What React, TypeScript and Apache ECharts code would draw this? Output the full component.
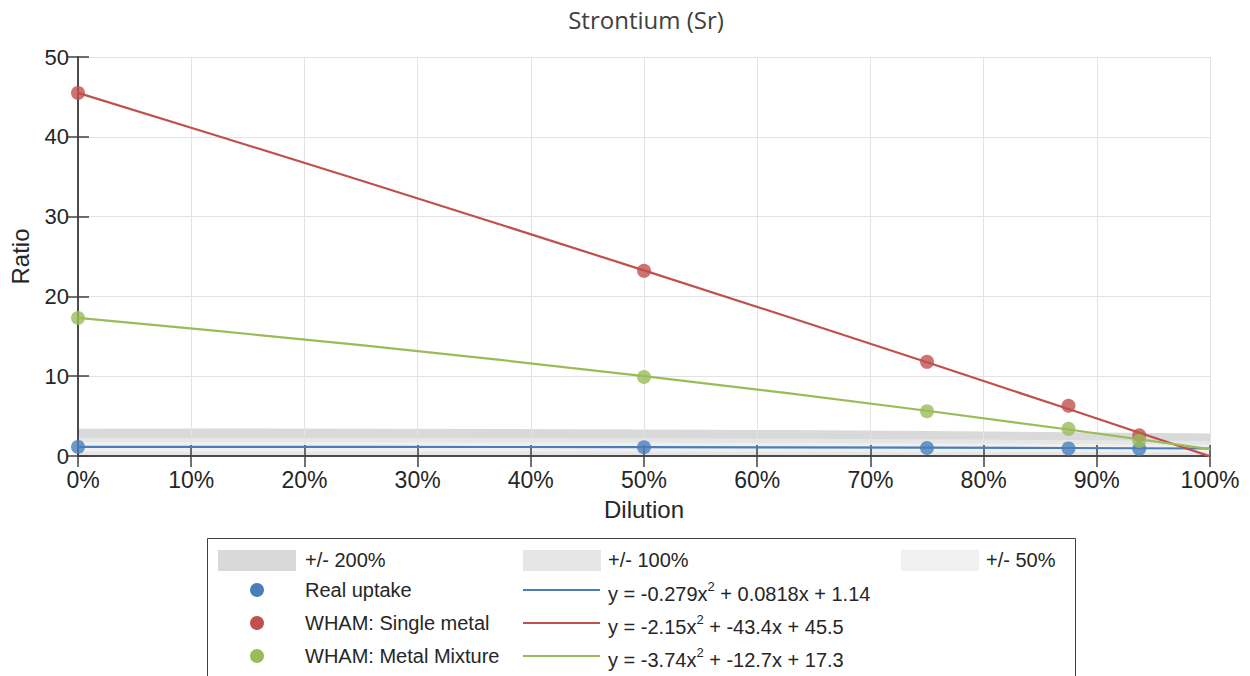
import React, { useEffect, useRef } from "react";
import * as echarts from "echarts";

// ---- data ----
const dilution = [0, 0.5, 0.75, 0.875, 0.9375];
const realUptake = [1.14, 1.1, 1.0, 0.95, 0.9];
const singleMetal = [45.5, 23.2, 11.8, 6.3, 2.6];
const metalMixture = [17.3, 9.9, 5.6, 3.4, 1.9];

const fitX = [0, 0.125, 0.25, 0.375, 0.5, 0.625, 0.75, 0.875, 1];
const fitReal = [1.14, 1.15, 1.14, 1.13, 1.11, 1.08, 1.04, 1.0, 0.94];
const fitSingle = [45.5, 40.04, 34.52, 28.92, 23.26, 17.54, 11.74, 5.88, -0.05];
const fitMixture = [17.3, 15.65, 13.89, 12.01, 10.02, 7.9, 5.67, 3.32, 0.86];

const band200Upper = [3.42, 3.44, 3.43, 3.39, 3.33, 3.25, 3.13, 2.99, 2.83];
const band100Upper = [2.28, 2.29, 2.29, 2.26, 2.22, 2.16, 2.09, 2.0, 1.89];
const band50Upper = [1.71, 1.72, 1.71, 1.7, 1.67, 1.62, 1.57, 1.5, 1.41];
const band50Lower = [0.57, 0.57, 0.57, 0.57, 0.56, 0.54, 0.52, 0.5, 0.47];

const seriesNames = ["Real uptake", "WHAM: Single metal", "WHAM: Metal Mixture"];
const bandNames = ["+/- 200%", "+/- 100%", "+/- 50%"];
const equations = [
  ["y = -0.279x", " + 0.0818x + 1.14"],
  ["y = -2.15x", " + -43.4x + 45.5"],
  ["y = -3.74x", " + -12.7x + 17.3"],
];

const COLORS = ["#4a7ebb", "#c0504d", "#9bbb59"];
const BAND_COLORS = ["#d9d9d9", "#e6e6e6", "#f0f0f0"];
const AXIS_COLOR = "#404040";
const TEXT_COLOR = "#262626";
const FONT = "'Liberation Sans', Arial, Helvetica, sans-serif";

const pairs = (xs: number[], ys: number[]) => xs.map((x, i) => [x, ys[i]]);

export default function App() {
  const ref = useRef<HTMLDivElement>(null);

  useEffect(() => {
    if (!ref.current) return;
    const chart = echarts.init(ref.current, undefined, { renderer: "svg" });

    const bandSeries = (data: number[][], color: string, z: number) => ({
      type: "line",
      data,
      showSymbol: false,
      symbol: "none",
      lineStyle: { width: 0, opacity: 0 },
      areaStyle: { color, opacity: 1, origin: "start" },
      z,
      silent: true,
    });

    const lineSeries = (ys: number[], color: string) => ({
      type: "line",
      data: pairs(fitX, ys),
      showSymbol: false,
      symbol: "none",
      lineStyle: { width: 2.2, color },
      z: 3,
      clip: true,
    });

    const scatterSeries = (ys: number[], color: string) => ({
      type: "scatter",
      data: pairs(dilution, ys),
      symbol: "circle",
      symbolSize: 14,
      itemStyle: { color },
      z: 4,
      clip: false,
    });

    // legend graphics
    const legendLeft = 207;
    const legendTop = 538;
    const col1Patch = 218;
    const col1Text = 305;
    const col2Patch = 523;
    const col2Text = 608;
    const col3Patch = 901;
    const col3Text = 986;
    const rowY = [560, 591, 624, 657];
    const legendFont = { fontSize: 20, fontFamily: FONT, fill: TEXT_COLOR };

    const graphics: any[] = [
      {
        type: "rect",
        shape: { x: legendLeft + 0.5, y: legendTop + 0.5, width: 868, height: 200 },
        style: { fill: "#fff", stroke: AXIS_COLOR, lineWidth: 1 },
        z: 10,
      },
    ];
    const patchXs = [col1Patch, col2Patch, col3Patch];
    const patchTextXs = [col1Text, col2Text, col3Text];
    bandNames.forEach((name, i) => {
      graphics.push({
        type: "rect",
        shape: { x: patchXs[i], y: rowY[0] - 10, width: 78, height: 21 },
        style: { fill: BAND_COLORS[i] },
        z: 11,
      });
      graphics.push({
        type: "text",
        x: patchTextXs[i],
        y: rowY[0],
        style: { text: name, ...legendFont, verticalAlign: "middle" },
        z: 11,
      });
    });
    seriesNames.forEach((name, i) => {
      const y = rowY[i + 1];
      graphics.push({
        type: "circle",
        shape: { cx: 257, cy: y - 1, r: 7 },
        style: { fill: COLORS[i] },
        z: 11,
      });
      graphics.push({
        type: "text",
        x: col1Text,
        y: y - 1,
        style: { text: name, ...legendFont, verticalAlign: "middle" },
        z: 11,
      });
      graphics.push({
        type: "line",
        shape: { x1: col2Patch, y1: y - 1, x2: col2Patch + 77, y2: y - 1 },
        style: { stroke: COLORS[i], lineWidth: 2 },
        z: 11,
      });
      graphics.push({
        type: "text",
        x: col2Text,
        y: y + 3,
        style: {
          text: equations[i][0] + "{sup|2}" + equations[i][1],
          ...legendFont,
          verticalAlign: "middle",
          rich: {
            sup: { fontSize: 13, fontFamily: FONT, fill: TEXT_COLOR, padding: [0, 0, 15, 0] },
          },
        },
        z: 11,
      });
    });

    const option: any = {
      animation: false,
      backgroundColor: "#ffffff",
      title: {
        text: "Strontium (Sr)",
        left: 641,
        textAlign: "center",
        top: 2,
        textStyle: {
          fontFamily: "'Open Sans', sans-serif",
          fontWeight: "normal",
          fontSize: 24,
          color: "#404040",
        },
      },
      grid: { left: 73, right: 40, top: 57, bottom: 220, containLabel: false },
      xAxis: [
        {
          type: "value",
          min: 0,
          max: 1,
          interval: 0.1,
          z: 1,
          name: "Dilution",
          nameLocation: "middle",
          nameGap: 41,
          nameTextStyle: { fontFamily: FONT, fontSize: 24, color: TEXT_COLOR },
          axisLine: { show: true, lineStyle: { color: AXIS_COLOR, width: 1.5 } },
          axisTick: { show: true, inside: true, length: 11, lineStyle: { color: AXIS_COLOR, width: 1.5 } },
          axisLabel: {
            fontFamily: FONT,
            fontSize: 23,
            color: TEXT_COLOR,
            margin: 12,
            formatter: (v: number) => (v === 0 ? "{first|0%}" : Math.round(v * 100) + "%"),
            rich: {
              first: { fontFamily: FONT, fontSize: 23, color: TEXT_COLOR, padding: [0, 0, 0, 10] },
            },
          },
          splitLine: { show: true, lineStyle: { color: "#e3e3e3", width: 1 } },
        },
        {
          type: "value",
          position: "top",
          min: 0,
          max: 1,
          interval: 0.1,
          z: 1,
          axisLine: { show: true, lineStyle: { color: AXIS_COLOR, width: 1.5 } },
          axisTick: { show: true, inside: true, length: 11, lineStyle: { color: AXIS_COLOR, width: 1.5 } },
          axisLabel: { show: false },
          splitLine: { show: false },
        },
      ],
      yAxis: [
        {
          type: "value",
          min: 0,
          max: 50,
          interval: 10,
          z: 1,
          name: "Ratio",
          nameLocation: "middle",
          nameGap: 46,
          nameTextStyle: { fontFamily: FONT, fontSize: 24, color: TEXT_COLOR },
          axisLine: { show: true, lineStyle: { color: AXIS_COLOR, width: 1.5 } },
          axisTick: { show: true, inside: true, length: 11, lineStyle: { color: AXIS_COLOR, width: 1.5 } },
          axisLabel: { fontFamily: FONT, fontSize: 22, color: TEXT_COLOR, margin: 9 },
          splitLine: { show: true, lineStyle: { color: "#e3e3e3", width: 1 } },
        },
        {
          type: "value",
          position: "right",
          min: 0,
          max: 50,
          interval: 10,
          z: 1,
          axisLine: { show: true, lineStyle: { color: AXIS_COLOR, width: 1.5 } },
          axisTick: { show: true, inside: true, length: 11, lineStyle: { color: AXIS_COLOR, width: 1.5 } },
          axisLabel: { show: false },
          splitLine: { show: false },
        },
      ],
      series: [
        bandSeries(pairs(fitX, band200Upper), BAND_COLORS[0], 0),
        bandSeries(pairs(fitX, band100Upper), BAND_COLORS[1], 0),
        bandSeries(pairs(fitX, band50Upper), BAND_COLORS[2], 0),
        bandSeries(pairs(fitX, band50Lower), BAND_COLORS[1], 0),
        lineSeries(fitReal, COLORS[0]),
        lineSeries(fitSingle, COLORS[1]),
        lineSeries(fitMixture, COLORS[2]),
        scatterSeries(realUptake, COLORS[0]),
        scatterSeries(singleMetal, COLORS[1]),
        scatterSeries(metalMixture, COLORS[2]),
      ],
      graphic: graphics,
    };

    chart.setOption(option);
    return () => chart.dispose();
  }, []);

  return (
    <div
      ref={ref}
      style={{ position: "fixed", left: 0, top: 0, width: 1250, height: 676 }}
    />
  );
}
